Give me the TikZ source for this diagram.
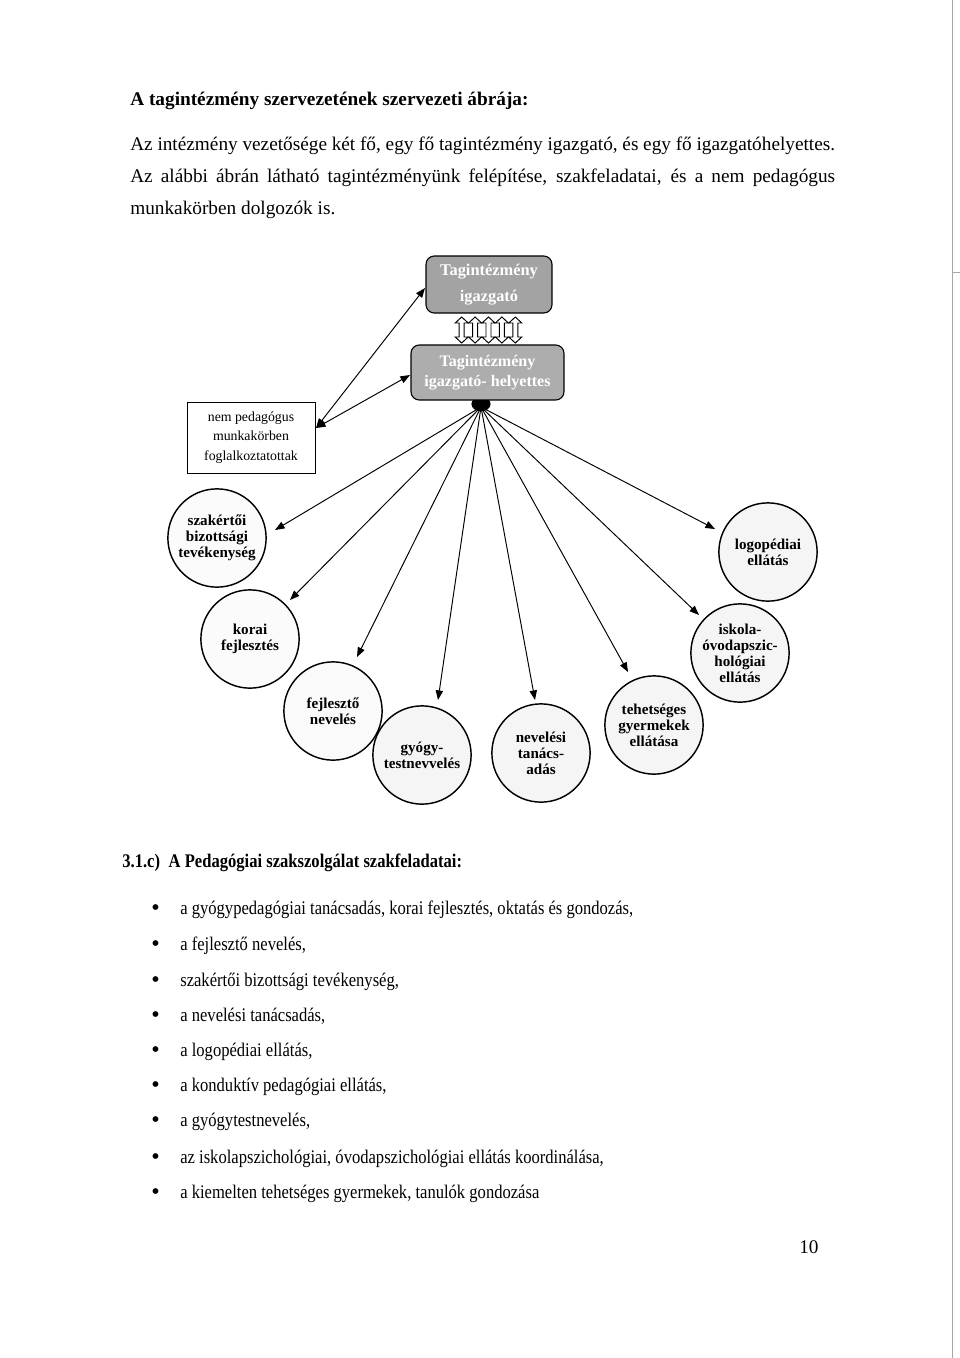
\documentclass[tikz,border=0pt]{standalone}
\usepackage{fontspec}
\setmainfont{Liberation Serif}
\newfontfamily\narrowserif[FakeStretch=0.86]{Liberation Serif}
\usetikzlibrary{arrows.meta}
\begin{document}
\begin{tikzpicture}[x=0.021875cm,y=-0.021875cm,
  body/.style={anchor=base west,inner sep=0,font=\fontsize{12}{14}\selectfont},
  lower/.style={anchor=base west,inner sep=0,font=\narrowserif\fontsize{12}{14}\selectfont},
  lead/.style={rounded corners=0.18cm,draw,line width=0.7pt,fill=gray!72,text=white,align=center,inner sep=0},
  circ/.style={circle,draw,line width=0.9pt,minimum size=2.15cm,inner sep=0,align=center,fill=gray!8,
    font=\fontsize{9.4}{9.9}\selectfont\bfseries},
  arr/.style={line width=0.6pt,-{Triangle[length=0.21cm,width=0.16cm]}},
  darr/.style={line width=0.6pt,{Triangle[length=0.21cm,width=0.16cm]}-{Triangle[length=0.21cm,width=0.16cm]}},
  ladder/.style={draw,fill=white,line width=0.6pt,line join=miter}
]
\useasboundingbox[fill=white] (0,0) rectangle (960,1358);
% scan edge
\draw[gray!70,line width=0.5pt] (952,0) -- (952,1358);
\draw[gray!70,line width=0.5pt] (952,272) -- (960,272);

% header text
\node[body,font=\fontsize{12}{14}\selectfont\bfseries] (title) at (130,105) {A tagintézmény szervezetének szervezeti ábrája:};
\node[body] (p1) at (130,150) {\makebox[705\dimexpr0.21875mm\relax][s]{Az intézmény vezetősége két fő, egy fő tagintézmény igazgató, és egy fő igazgatóhelyettes.}};
\node[body] (p2) at (130,182) {\makebox[705\dimexpr0.21875mm\relax][s]{Az alábbi ábrán látható tagintézményünk felépítése, szakfeladatai, és a nem pedagógus}};
\node[body] (p3) at (130,214) {munkakörben dolgozók is.};

% blob under deputy box
\fill (481,404) ellipse [x radius=0.21cm, y radius=0.16cm];
\coordinate (blob) at (481,407);

% leader boxes
\node[lead,minimum width=2.756cm,minimum height=1.247cm,font=\fontsize{10.2}{16.5}\selectfont\bfseries] (igaz) at (489,284.5) {Tagintézmény\\igazgató};
\node[lead,fill=gray!64,minimum width=3.347cm,minimum height=1.203cm,font=\fontsize{10}{12.4}\selectfont\bfseries] (helyet) at (487.5,372.5) {Tagintézmény\\igazgató- helyettes};

% ladder of double arrows
\foreach \cx in {461.7,475.1,488.5,501.9,515.3}{
  \draw[ladder] (\cx,317) -- (\cx+6.5,323) -- (\cx+2.5,323) -- (\cx+2.5,337) -- (\cx+6.5,337) -- (\cx,343)
    -- (\cx-6.5,337) -- (\cx-2.5,337) -- (\cx-2.5,323) -- (\cx-6.5,323) -- cycle;
}

% non-teaching staff box
\node[draw,line width=0.6pt,minimum width=2.8cm,minimum height=1.553cm,align=center,inner sep=0,
  font=\fontsize{8.6}{12}\selectfont] (nem) at (251,437.5) {nem pedagógus\\munkakörben\\foglalkoztatottak};
\coordinate (tNem) at (316,428);
\coordinate (tTop) at (425,288);
\coordinate (tSec) at (410,375);
\draw[darr] (tNem) -- (tTop);
\draw[darr] (tNem) -- (tSec);

% service circles
\node[circ,fill=gray!3] (szak) at (217,538) {szakértői\\bizottsági\\tevékenység};
\node[circ,fill=gray!3] (korai) at (250,639) {korai\\fejlesztés};
\node[circ,fill=gray!4] (fejl) at (333,711) {fejlesztő\\nevelés};
\node[circ] (gyogy) at (422,755) {gyógy-\\testnevvelés};
\node[circ] (nev) at (541,753) {nevelési\\tanács-\\adás};
\node[circ] (teh) at (654,725) {tehetséges\\gyermekek\\ellátása};
\node[circ] (isk) at (740,653) {iskola-\\óvodapszic-\\hológiai\\ellátás};
\node[circ] (logo) at (768,552) {logopédiai\\ellátás};

\coordinate (tSzak) at (275,530);
\coordinate (tKorai) at (290,600);
\coordinate (tFejl) at (357,657);
\coordinate (tGyogy) at (438,700);
\coordinate (tNev) at (535,700);
\coordinate (tTeh) at (628,672);
\coordinate (tIsk) at (699,615);
\coordinate (tLogo) at (715,529);
\foreach \t in {tSzak,tKorai,tFejl,tGyogy,tNev,tTeh,tIsk,tLogo}{
  \draw[arr] (blob) -- (\t);
}

% section heading and list
\node[lower,font=\narrowserif\fontsize{12}{14}\selectfont\bfseries] (sec) at (122,867) {3.1.c)\hspace{0.45em}A Pedagógiai szakszolgálat szakfeladatai:};
\foreach \y/\txt [count=\i] in {
  914/{a gyógypedagógiai tanácsadás, korai fejlesztés, oktatás és gondozás,},
  950/{a fejlesztő nevelés,},
  986/{szakértői bizottsági tevékenység,},
  1021/{a nevelési tanácsadás,},
  1056/{a logopédiai ellátás,},
  1091/{a konduktív pedagógiai ellátás,},
  1126/{a gyógytestnevelés,},
  1163/{az iskolapszichológiai, óvodapszichológiai ellátás koordinálása,},
  1198/{a kiemelten tehetséges gyermekek, tanulók gondozása}}{
  \node[lower,font=\fontsize{15}{15}\selectfont] (b\i) at (151,\y+1) {\textbullet};
  \node[lower] (item\i) at (180,\y) {\txt};
}

% page number
\node[body] (pg) at (799,1253) {10};
\end{tikzpicture}
\end{document}
